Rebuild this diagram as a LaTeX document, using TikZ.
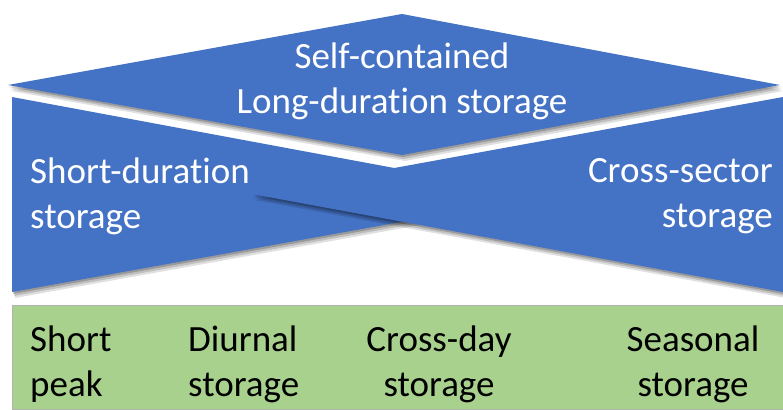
\documentclass[tikz,border=0pt]{standalone}
\usepackage{fontspec}
\setmainfont[Ligatures=NoCommon]{Carlito}
\usetikzlibrary{positioning,shadows}
\definecolor{wedgeblue}{HTML}{4472C4}
\definecolor{bandgreen}{HTML}{A9D18E}
\tikzset{
  wedge/.style={
    fill=wedgeblue,
    draw=none,
    general shadow={shadow xshift=3pt,shadow yshift=-6pt,opacity=0.12,fill=black},
    general shadow={shadow xshift=2pt,shadow yshift=-4pt,opacity=0.15,fill=black},
    general shadow={shadow xshift=1pt,shadow yshift=-2pt,opacity=0.2,fill=black}
  },
  band/.style={
    fill=bandgreen,
    draw=black!30,
    line width=0.8pt
  },
  bluetext/.style={
    text=white,
    inner sep=0pt,
    font=\fontsize{37}{45}\selectfont
  },
  greentext/.style={
    text=black,
    inner sep=0pt,
    font=\fontsize{37}{45}\selectfont
  }
}
\begin{document}
\begin{tikzpicture}[x=1pt,y=-1pt]
  \useasboundingbox (0,0) rectangle (783,409);

  % wedges
  \draw[wedge] (12,97) -- (12,292) -- (545,196) -- cycle;
  \draw[wedge] (783,97) -- (783,292) -- (252,194) -- cycle;
  \draw[wedge] (8,85) -- (402,14) -- (780,85) -- (402,155) -- cycle;

  \node[bluetext, align=center] (selfc) at (402,81) {Self-contained\\Long-duration storage};
  \node[bluetext, align=left, anchor=west] (shortd) at (30,196) {Short-duration\\storage};
  \node[bluetext, align=right, anchor=east] (crosss) at (773,196) {Cross-sector\\storage};

  % time scale band
  \draw[band] (12,305) rectangle (783,409);
  \node[greentext, align=left, anchor=west] (peak) at (30,364) {Short\\peak};
  \node[greentext, align=left, anchor=west] (diurnal) at (188,364) {Diurnal\\storage};
  \node[greentext, align=center] (crossday) at (439,364) {Cross-day\\storage};
  \node[greentext, align=center] (seasonal) at (693,364) {Seasonal\\storage};
\end{tikzpicture}
\end{document}
